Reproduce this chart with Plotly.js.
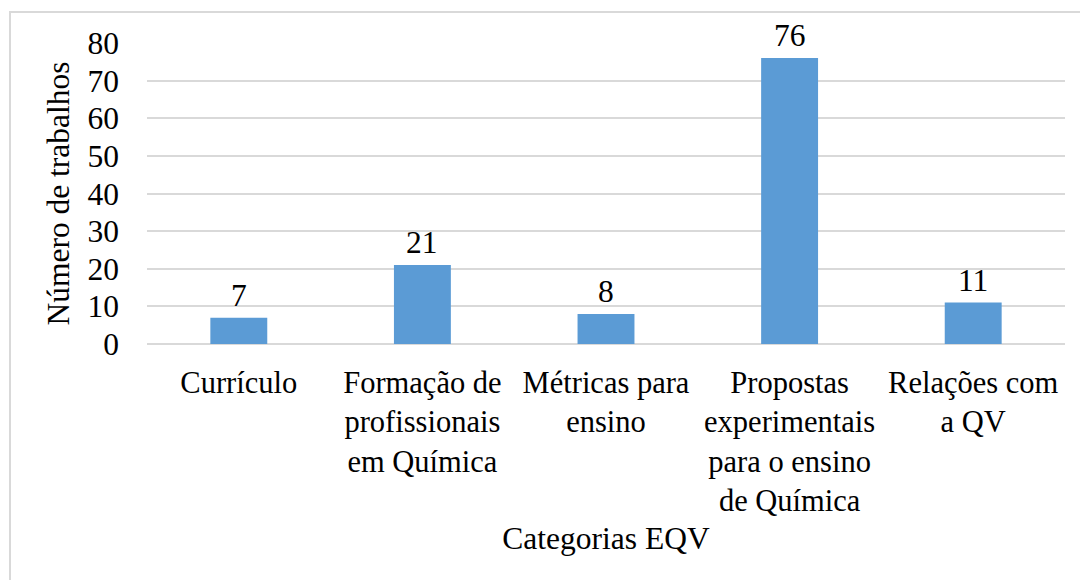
<!DOCTYPE html>
<html>
<head>
<meta charset="utf-8">
<script src="https://cdn.plot.ly/plotly-3.0.1.min.js"></script>
<style>
  html, body { margin: 0; padding: 0; background: #fff; overflow: hidden; }
  #frame { position: absolute; left: 9px; top: 11px; width: 1200px; height: 700px; border: 2px solid #d9d9d9; box-sizing: border-box; }
  #chart { position: absolute; left: 0; top: 0; width: 1080px; height: 580px; }
</style>
</head>
<body>
<div id="frame"></div>
<div id="chart"></div>
<script>
const categories = [
  "Currículo",
  "Formação de<br>profissionais<br>em Química",
  "Métricas para<br>ensino",
  "Propostas<br>experimentais<br>para o ensino<br>de Química",
  "Relações com<br>a QV"
];
const values = [7, 21, 8, 76, 11];
const yTicks = [0, 10, 20, 30, 40, 50, 60, 70, 80];

const FONT = "Times New Roman, Liberation Serif, serif";
const FS = 31.5;
const FSX = 30.5;

const trace = {
  type: 'bar',
  x: categories,
  y: values,
  marker: { color: '#5B9BD5' },
  hoverinfo: 'skip'
};

const annotations = categories.map((c, i) => ({
  x: c, y: values[i], text: String(values[i]),
  xref: 'x', yref: 'y', showarrow: false, yanchor: 'bottom', yshift: 3,
  font: { family: FONT, size: FS, color: '#000' }
}));

const layout = {
  width: 1080, height: 580,
  paper_bgcolor: 'rgba(0,0,0,0)',
  plot_bgcolor: 'rgba(0,0,0,0)',
  margin: { l: 147, r: 15, t: 43, b: 236 },
  bargap: 0.69,
  showlegend: false,
  font: { family: FONT, size: FS, color: '#000' },
  xaxis: {
    type: 'category',
    showgrid: false, zeroline: false, showline: false, ticks: '',
    tickfont: { family: FONT, size: FSX, color: '#000' },
    ticklabelstandoff: 17,
    automargin: false,
    title: { text: 'Categorias EQV', font: { family: FONT, size: FS, color: '#000' }, standoff: 9 }
  },
  yaxis: {
    range: [0, 80],
    tickvals: yTicks,
    ticktext: yTicks.map(String),
    showgrid: true, gridcolor: '#d9d9d9', gridwidth: 2,
    zeroline: true, zerolinecolor: '#d9d9d9', zerolinewidth: 2,
    showline: false, ticks: '',
    ticklabelstandoff: 27,
    tickfont: { family: FONT, size: FS, color: '#000' },
    automargin: false,
    title: { text: 'Número de trabalhos', font: { family: FONT, size: FS, color: '#000' }, standoff: 8 }
  },
  annotations: annotations
};

Plotly.newPlot('chart', [trace], layout, { displayModeBar: false, staticPlot: true });
</script>
</body>
</html>
